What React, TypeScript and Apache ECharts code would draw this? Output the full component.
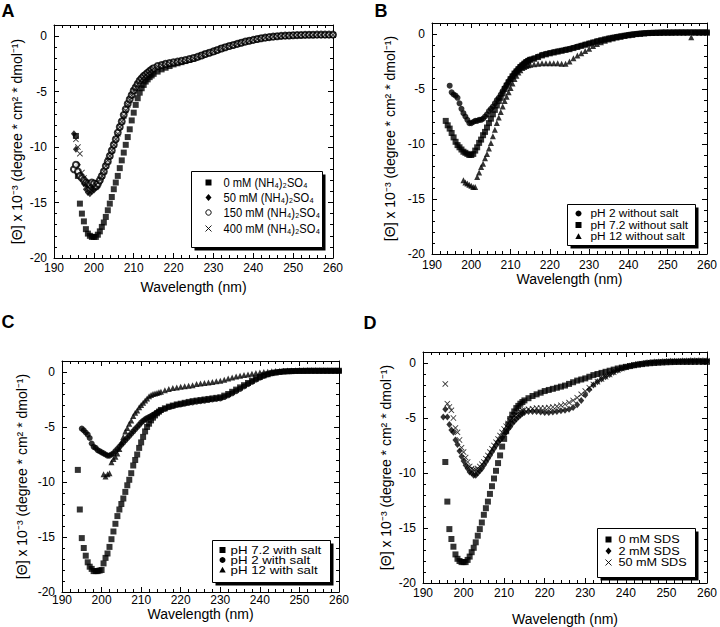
import React, { useEffect, useRef } from "react";
import * as echarts from "echarts";

// Wavelength grid (nm): 0.5 nm steps 193.5–215, then 1 nm steps 216–260
const WL_FINE = [
  193.5, 194, 194.5, 195,
  195.5, 196, 196.5, 197,
  197.5, 198, 198.5, 199,
  199.5, 200, 200.5, 201,
  201.5, 202, 202.5, 203,
  203.5, 204, 204.5, 205,
  205.5, 206, 206.5, 207,
  207.5, 208, 208.5, 209,
  209.5, 210, 210.5, 211,
  211.5, 212, 212.5, 213,
  213.5, 214, 214.5, 215,
];
const WL_TAIL = [
  216, 217, 218, 219, 220,
  221, 222, 223, 224, 225,
  226, 227, 228, 229, 230,
  231, 232, 233, 234, 235,
  236, 237, 238, 239, 240,
  241, 242, 243, 244, 245,
  246, 247, 248, 249, 250,
  251, 252, 253, 254, 255,
  256, 257, 258, 259, 260,
];

const X_TICKS = [190, 200, 210, 220, 230, 240, 250, 260];
const Y_TICKS = [-20, -15, -10, -5, 0];

// ---- Panel A / D: native (0 mM) spectrum ----
const NATIVE_FINE = [
  null, null, null, null,
  -9.0, -12.6, -15.1, -16.0,
  -16.7, -17.4, -17.8, -18.0,
  -18.1, -18.1, -18.1, -17.9,
  -17.6, -17.2, -16.8, -16.3,
  -15.7, -15.1, -14.5, -13.8,
  -13.2, -12.6, -11.9, -11.2,
  -10.5, -9.8, -9.1, -8.4,
  -7.6, -6.9, -6.2, -5.6,
  -5.1, -4.7, -4.4, -4.1,
  -3.9, -3.7, -3.55, -3.4,
];
const NATIVE_TAIL = [
  -3.2, -3.0, -2.85, -2.7, -2.55,
  -2.45, -2.35, -2.25, -2.15, -2.05,
  -1.9, -1.75, -1.6, -1.5, -1.4,
  -1.25, -1.1, -1.0, -0.9, -0.8,
  -0.7, -0.6, -0.5, -0.42, -0.35,
  -0.28, -0.2, -0.15, -0.1, -0.05,
  -0.02, 0.0, 0.03, 0.05, 0.07,
  0.08, 0.09, 0.1, 0.1, 0.1,
  0.1, 0.1, 0.11, 0.1, 0.1,
];

// ---- Panel A ----
const A_50_FINE = [
  null, null, null, -8.8,
  -10.2, -11.6, -12.5, -12.8,
  -13.3, -13.8, -14.1, -14.2,
  -14.0, -13.9, -13.7, -13.6,
  -13.2, -12.8, -12.3, -11.8,
  -11.4, -10.9, -10.5, -9.9,
  -9.4, -8.9, -8.3, -7.8,
  -7.3, -6.8, -6.2, -5.8,
  -5.4, -5.0, -4.7, -4.4,
  -4.1, -3.9, -3.7, -3.55,
  -3.4, -3.25, -3.1, -3.0,
];
const A_50_TAIL = [
  -2.8, -2.65, -2.55, -2.5, -2.42,
  -2.35, -2.28, -2.2, -2.12, -2.02,
  -1.9, -1.78, -1.65, -1.52, -1.4,
  -1.27, -1.14, -1.02, -0.92, -0.82,
  -0.72, -0.62, -0.52, -0.44, -0.36,
  -0.28, -0.21, -0.15, -0.1, -0.06,
  -0.02, 0.01, 0.03, 0.05, 0.07,
  0.08, 0.09, 0.1, 0.11, 0.11,
  0.12, 0.12, 0.12, 0.12, 0.12,
];
const A_150_FINE = [
  null, null, null, -12.0,
  -11.6, -12.2, -12.6, -12.8,
  -13.0, -13.2, -13.3, -13.4,
  -13.2, -13.3, -13.5, -13.3,
  -13.0, -12.6, -12.2, -11.7,
  -11.3, -10.8, -10.3, -9.8,
  -9.3, -8.7, -8.2, -7.7,
  -7.1, -6.6, -6.1, -5.7,
  -5.3, -4.9, -4.6, -4.3,
  -4.0, -3.8, -3.6, -3.45,
  -3.3, -3.15, -3.0, -2.9,
];
const A_150_TAIL = [
  -2.7, -2.6, -2.5, -2.42, -2.36,
  -2.3, -2.22, -2.15, -2.07, -1.98,
  -1.87, -1.75, -1.62, -1.5, -1.38,
  -1.25, -1.12, -1.0, -0.9, -0.8,
  -0.7, -0.6, -0.5, -0.42, -0.34,
  -0.26, -0.2, -0.14, -0.09, -0.05,
  -0.01, 0.02, 0.04, 0.06, 0.08,
  0.09, 0.1, 0.11, 0.12, 0.12,
  0.13, 0.13, 0.13, 0.13, 0.13,
];
const A_400_FINE = [
  null, null, null, null,
  -9.3, -10.0, -10.6, -12.3,
  -12.8, -13.3, -13.6, -13.8,
  -13.7, -13.6, -13.4, -13.2,
  -12.9, -12.6, -12.2, -11.7,
  -11.2, -10.8, -10.3, -9.8,
  -9.3, -8.8, -8.2, -7.7,
  -7.2, -6.7, -6.2, -5.75,
  -5.35, -4.95, -4.65, -4.35,
  -4.05, -3.85, -3.65, -3.5,
  -3.35, -3.2, -3.05, -2.95,
];
const A_400_TAIL = [
  -2.75, -2.62, -2.52, -2.46, -2.4,
  -2.32, -2.25, -2.18, -2.1, -2.0,
  -1.88, -1.76, -1.63, -1.5, -1.38,
  -1.26, -1.13, -1.01, -0.91, -0.81,
  -0.71, -0.61, -0.51, -0.43, -0.35,
  -0.27, -0.2, -0.14, -0.1, -0.05,
  -0.01, 0.02, 0.04, 0.06, 0.08,
  0.09, 0.1, 0.1, 0.11, 0.11,
  0.12, 0.12, 0.12, 0.12, 0.12,
];

// ---- Panel B ----
const B_PH2_FINE = [
  null, null, -4.7, -5.3,
  -5.5, -5.6, -5.8, -6.3,
  -6.8, -7.2, -7.5, -7.8,
  -8.1, -8.1, -8.0, -7.9,
  -7.9, -7.8, -7.8, -7.7,
  -7.5, -7.3, -7.0, -6.8,
  -6.6, -6.3, -6.0, -5.8,
  -5.5, -5.2, -4.9, -4.6,
  -4.3, -4.05, -3.8, -3.55,
  -3.35, -3.15, -2.95, -2.8,
  -2.65, -2.5, -2.4, -2.3,
];
const B_PH2_TAIL = [
  -2.2, -2.05, -1.9, -1.8, -1.72,
  -1.65, -1.58, -1.5, -1.42, -1.35,
  -1.25, -1.15, -1.05, -0.95, -0.85,
  -0.75, -0.65, -0.56, -0.48, -0.4,
  -0.33, -0.26, -0.2, -0.14, -0.08,
  -0.03, 0.01, 0.05, 0.08, 0.1,
  0.12, 0.13, 0.14, 0.15, 0.15,
  0.15, 0.16, 0.16, 0.16, 0.16,
  0.16, 0.16, 0.16, 0.16, 0.16,
];
const B_PH72_FINE = [
  -7.9, -8.3, -8.6, -9.0,
  -9.4, -9.8, -10.1, -10.3,
  -10.5, -10.7, -10.8, -10.9,
  -11.0, -11.0, -10.9, -10.6,
  -10.3, -9.9, -9.6, -9.2,
  -8.9, -8.5, -8.1, -7.7,
  -7.3, -6.9, -6.5, -6.1,
  -5.8, -5.4, -5.0, -4.7,
  -4.4, -4.1, -3.85, -3.6,
  -3.4, -3.2, -3.0, -2.85,
  -2.7, -2.55, -2.45, -2.35,
];
const B_PH72_TAIL = [
  -2.25, -2.1, -1.95, -1.85, -1.76,
  -1.68, -1.6, -1.53, -1.45, -1.38,
  -1.28, -1.18, -1.08, -0.98, -0.88,
  -0.78, -0.68, -0.59, -0.5, -0.42,
  -0.35, -0.28, -0.22, -0.16, -0.1,
  -0.05, -0.01, 0.03, 0.06, 0.08,
  0.1, 0.11, 0.12, 0.13, 0.13,
  0.13, 0.14, 0.14, 0.14, 0.14,
  0.14, 0.14, 0.14, 0.14, 0.14,
];
const B_PH12_FINE = [
  null, null, null, null,
  null, null, null, null,
  null, -13.3, -13.5, -13.6,
  -13.7, -13.8, -13.9, -13.9,
  -13.0, -12.6, -12.1, -11.8,
  -11.3, -10.9, -10.4, -9.9,
  -9.3, -8.7, -8.1, -7.6,
  -7.1, -6.6, -6.1, -5.7,
  -5.3, -4.9, -4.5, -4.1,
  -3.8, -3.5, -3.3, -3.1,
  -3.0, -2.9, -2.85, -2.8,
];
const B_PH12_TAIL = [
  -2.75, -2.7, -2.65, -2.65, -2.65,
  -2.65, -2.65, -2.7, -2.7, -2.5,
  -2.2, -1.95, -1.75, -1.55, -1.35,
  -1.1, -0.9, -0.75, -0.62, -0.5,
  -0.4, -0.32, -0.24, -0.17, -0.11,
  -0.06, -0.01, 0.03, 0.06, 0.08,
  0.1, 0.11, 0.12, 0.13, 0.13,
  0.14, 0.14, 0.14, 0.14, 0.14,
  -0.3, 0.14, 0.14, 0.14, 0.14,
];

// ---- Panel C ----
const C_PH72_FINE = [
  null, -8.9, -12.5, -15.1,
  -16.0, -16.7, -17.3, -17.7,
  -17.9, -18.1, -18.1, -18.1,
  -18.05, -18.0, -17.4, -16.9,
  -16.5, -15.9, -15.2, -14.5,
  -13.8, -13.1, -12.5, -12.0,
  -11.5, -10.9, -10.3, -9.8,
  -9.2, -8.5, -8.0, -7.5,
  -6.9, -6.4, -5.9, -5.4,
  -5.0, -4.7, -4.4, -4.15,
  -3.95, -3.75, -3.6, -3.45,
];
const C_PH72_TAIL = [
  -3.3, -3.15, -3.05, -2.95, -2.88,
  -2.8, -2.72, -2.65, -2.6, -2.55,
  -2.5, -2.45, -2.4, -2.35, -2.3,
  -2.15, -2.0, -1.8, -1.6, -1.4,
  -1.2, -1.0, -0.8, -0.6, -0.45,
  -0.3, -0.2, -0.1, -0.05, 0.0,
  0.04, 0.06, 0.08, 0.09, 0.1,
  0.1, 0.11, 0.11, 0.11, 0.11,
  0.11, 0.11, 0.11, 0.11, 0.11,
];
const C_PH2_FINE = [
  null, null, null, -5.15,
  -5.3, -5.5, -5.7, -6.0,
  -6.5, -6.8, -6.9, -7.1,
  -7.2, -7.3, -7.4, -7.5,
  -7.6, -7.6, -7.5, -7.4,
  -7.2, -7.0, -6.8, -6.6,
  -6.4, -6.2, -6.0, -5.8,
  -5.6, -5.4, -5.2, -5.0,
  -4.8, -4.6, -4.45, -4.3,
  -4.2, -4.1, -4.0, -3.9,
  -3.8, -3.7, -3.6, -3.5,
];
const C_PH2_TAIL = [
  -3.35, -3.2, -3.1, -3.0, -2.95,
  -2.88, -2.82, -2.76, -2.7, -2.65,
  -2.6, -2.55, -2.5, -2.45, -2.4,
  -2.28, -2.12, -1.94, -1.74, -1.54,
  -1.32, -1.1, -0.9, -0.7, -0.52,
  -0.36, -0.22, -0.12, -0.04, 0.02,
  0.05, 0.07, 0.08, 0.09, 0.1,
  0.1, 0.1, 0.11, 0.11, 0.11,
  0.11, 0.11, 0.11, 0.11, 0.11,
];
const C_PH12_FINE = [
  null, null, null, null,
  null, null, null, null,
  null, null, null, null,
  null, null, -9.3, -9.5,
  -9.3, -9.2, -8.2, -7.9,
  -7.7, -7.4, -7.0, -6.4,
  -5.9, -5.4, -5.1, -4.7,
  -4.4, -4.0, -3.7, -3.5,
  -3.2, -3.0, -2.8, -2.6,
  -2.4, -2.2, -2.1, -2.0,
  -1.95, -1.9, -1.85, -1.8,
];
const C_PH12_TAIL = [
  -1.65, -1.55, -1.45, -1.4, -1.35,
  -1.3, -1.25, -1.2, -1.1, -1.05,
  -1.0, -0.95, -0.9, -0.85, -0.8,
  -0.7, -0.6, -0.5, -0.42, -0.35,
  -0.28, -0.22, -0.16, -0.1, -0.05,
  0.0, 0.03, 0.06, 0.08, 0.1,
  0.12, 0.13, 0.14, 0.15, 0.15,
  0.15, 0.15, 0.15, 0.15, 0.15,
  0.15, 0.15, 0.15, 0.15, 0.15,
];

// ---- Panel D ----
const D_2_FINE = [
  null, null, null, -4.9,
  -4.2, -4.9, -5.6, -6.1,
  -6.3, -7.0, -7.4, -8.0,
  -8.5, -8.9, -9.3, -9.6,
  -9.9, -10.0, -10.2, -10.2,
  -10.0, -9.8, -9.6, -9.3,
  -9.0, -8.7, -8.4, -8.1,
  -7.8, -7.5, -7.2, -7.0,
  -6.8, -6.5, -6.3, -6.0,
  -5.8, -5.5, -5.3, -5.1,
  -4.9, -4.75, -4.6, -4.5,
];
const D_2_TAIL = [
  -4.4, -4.4, -4.4, -4.45, -4.5,
  -4.5, -4.45, -4.4, -4.35, -4.3,
  -4.2, -4.05, -3.8, -3.4, -2.9,
  -2.4, -2.0, -1.7, -1.45, -1.25,
  -1.05, -0.85, -0.65, -0.5, -0.38,
  -0.28, -0.2, -0.12, -0.06, 0.0,
  0.05, 0.08, 0.1, 0.12, 0.14,
  0.15, 0.16, 0.17, 0.18, 0.18,
  0.2, 0.2, 0.2, 0.2, 0.2,
];
const D_50_FINE = [
  null, null, null, null,
  -1.9, -3.7, -4.0, -4.3,
  -5.0, -5.9, -6.3, -7.0,
  -7.7, -8.1, -8.6, -9.0,
  -9.4, -9.6, -9.7, -9.7,
  -9.6, -9.4, -9.2, -9.0,
  -8.7, -8.4, -8.1, -7.8,
  -7.5, -7.2, -6.9, -6.6,
  -6.3, -6.0, -5.75, -5.5,
  -5.25, -5.0, -4.8, -4.65,
  -4.5, -4.4, -4.3, -4.25,
];
const D_50_TAIL = [
  -4.2, -4.15, -4.1, -4.1, -4.1,
  -4.05, -4.0, -3.95, -3.85, -3.75,
  -3.6, -3.4, -3.15, -2.85, -2.55,
  -2.25, -1.95, -1.7, -1.45, -1.25,
  -1.05, -0.85, -0.65, -0.5, -0.38,
  -0.28, -0.2, -0.12, -0.06, 0.0,
  0.05, 0.08, 0.1, 0.12, 0.14,
  0.15, 0.16, 0.17, 0.18, 0.18,
  0.2, 0.2, 0.2, 0.2, 0.2,
];

const FONT = 'Arial, "Liberation Sans", Helvetica, sans-serif';
const Y_NAME = "[Θ] x 10⁻³ (degree * cm² * dmol⁻¹)";
const X_NAME = "Wavelength (nm)";
const CROSS = "path://M1,0L5,4L9,0L10,1L6,5L10,9L9,10L5,6L1,10L0,9L4,5L0,1Z";

const WL = [...WL_FINE, ...WL_TAIL];
const toData = (fine: (number | null)[], tail: (number | null)[]) => {
  const vals = [...fine, ...tail];
  return WL.map((w, i) => [w, vals[i]]).filter((p) => p[1] !== null && p[1] !== undefined);
};

type Sym = "square" | "diamond" | "open" | "dot" | "tri" | "cross";
const SYMBOLS: Record<Sym, any> = {
  square: { symbol: "rect", symbolSize: 6, itemStyle: { color: "#000" } },
  diamond: { symbol: "diamond", symbolSize: [6, 7], itemStyle: { color: "#000" } },
  open: { symbol: "emptyCircle", symbolSize: 6, itemStyle: { color: "#000", borderWidth: 1 } },
  dot: { symbol: "circle", symbolSize: 6, itemStyle: { color: "#000" } },
  tri: { symbol: "triangle", symbolSize: 6, itemStyle: { color: "#000" } },
  cross: { symbol: CROSS, symbolSize: 6, itemStyle: { color: "#000" } },
};

const SERIES: { name: string; panel: number; sym: Sym; fine: any[]; tail: any[] }[] = [
  { name: "0 mM (NH₄)₂SO₄", panel: 0, sym: "square", fine: NATIVE_FINE, tail: NATIVE_TAIL },
  { name: "50 mM (NH₄)₂SO₄", panel: 0, sym: "diamond", fine: A_50_FINE, tail: A_50_TAIL },
  { name: "150 mM (NH₄)₂SO₄", panel: 0, sym: "open", fine: A_150_FINE, tail: A_150_TAIL },
  { name: "400 mM (NH₄)₂SO₄", panel: 0, sym: "cross", fine: A_400_FINE, tail: A_400_TAIL },
  { name: "pH 2 without salt", panel: 1, sym: "dot", fine: B_PH2_FINE, tail: B_PH2_TAIL },
  { name: "pH 7.2 without salt", panel: 1, sym: "square", fine: B_PH72_FINE, tail: B_PH72_TAIL },
  { name: "pH 12 without salt", panel: 1, sym: "tri", fine: B_PH12_FINE, tail: B_PH12_TAIL },
  { name: "pH 7.2 with salt", panel: 2, sym: "square", fine: C_PH72_FINE, tail: C_PH72_TAIL },
  { name: "pH 2 with salt", panel: 2, sym: "dot", fine: C_PH2_FINE, tail: C_PH2_TAIL },
  { name: "pH 12 with salt", panel: 2, sym: "tri", fine: C_PH12_FINE, tail: C_PH12_TAIL },
  { name: "0 mM SDS", panel: 3, sym: "square", fine: NATIVE_FINE, tail: NATIVE_TAIL },
  { name: "2 mM SDS", panel: 3, sym: "diamond", fine: D_2_FINE, tail: D_2_TAIL },
  { name: "50 mM SDS", panel: 3, sym: "cross", fine: D_50_FINE, tail: D_50_TAIL },
];

const PANELS = [
  { letter: "A", lx: 8, ly: 11, left: 54, top: 25, width: 279, height: 233, yGap: 30, xGap: 22, xMargin: 4,
    legend: { x: 191, y: 171, w: 131, h: 76, symX: 17, textX: 32, rows: [11, 26, 41, 57], fs: 12, sx: 0.93 } },
  { letter: "B", lx: 381, ly: 11, left: 432, top: 23, width: 280, height: 231, yGap: 35, xGap: 16, xMargin: 5,
    legend: { x: 567, y: 204, w: 128, h: 41, symX: 11, textX: 23, rows: [9, 20.5, 32], fs: 11, sx: 1.08 } },
  { letter: "C", lx: 8, ly: 322, left: 62, top: 361, width: 277, height: 231, yGap: 33, xGap: 10, xMargin: 2,
    legend: { x: 212, y: 540, w: 118, h: 42, symX: 10, textX: 18, rows: [9.5, 19.5, 29.5], fs: 10, sx: 1.33 } },
  { letter: "D", lx: 370, ly: 323, left: 423, top: 352, width: 284, height: 232, yGap: 30, xGap: 29, xMargin: 4,
    legend: { x: 597, y: 528, w: 98, h: 49, symX: 11, textX: 21, rows: [11, 22.5, 34], fs: 11.5, sx: 1.1 } },
];

function symbolEl(sym: Sym, cx: number, cy: number) {
  switch (sym) {
    case "square":
      return { type: "rect", shape: { x: cx - 3, y: cy - 3, width: 6, height: 6 }, style: { fill: "#000" } };
    case "diamond":
      return { type: "polygon", shape: { points: [[cx, cy - 3.5], [cx + 3, cy], [cx, cy + 3.5], [cx - 3, cy]] }, style: { fill: "#000" } };
    case "open":
      return { type: "circle", shape: { cx, cy, r: 2.7 }, style: { fill: "#fff", stroke: "#000", lineWidth: 1 } };
    case "dot":
      return { type: "circle", shape: { cx, cy, r: 3 }, style: { fill: "#000" } };
    case "tri":
      return { type: "polygon", shape: { points: [[cx, cy - 3.2], [cx + 3.2, cy + 2.6], [cx - 3.2, cy + 2.6]] }, style: { fill: "#000" } };
    case "cross":
    default:
      return {
        type: "group",
        children: [
          { type: "line", shape: { x1: cx - 3, y1: cy - 3, x2: cx + 3, y2: cy + 3 }, style: { stroke: "#000", lineWidth: 0.9 } },
          { type: "line", shape: { x1: cx + 3, y1: cy - 3, x2: cx - 3, y2: cy + 3 }, style: { stroke: "#000", lineWidth: 0.9 } },
        ],
      };
  }
}

function buildOption() {
  const grid: any[] = [];
  const xAxis: any[] = [];
  const yAxis: any[] = [];
  const graphic: any[] = [];
  const axisLine = { show: true, onZero: false, lineStyle: { color: "#000", width: 1 } };

  PANELS.forEach((p, g) => {
    grid.push({ left: p.left, top: p.top, width: p.width, height: p.height, containLabel: false });
    const xBase = {
      type: "value", gridIndex: g, min: X_TICKS[0], max: X_TICKS[X_TICKS.length - 1], interval: X_TICKS[1] - X_TICKS[0],
      axisLine, splitLine: { show: false }, minorSplitLine: { show: false },
      axisTick: { show: true, inside: true, length: 5, lineStyle: { color: "#000" } },
      minorTick: { show: true, splitNumber: 5, length: 3, lineStyle: { color: "#000" } },
    };
    xAxis.push({
      ...xBase, position: "bottom",
      axisLabel: { show: true, color: "#000", fontSize: 12, fontFamily: FONT, margin: p.xMargin },
      name: X_NAME, nameLocation: "middle", nameGap: p.xGap,
      nameTextStyle: { color: "#000", fontSize: 14, fontFamily: FONT },
    });
    xAxis.push({ ...xBase, position: "top", axisLabel: { show: false } });

    const yMajor = {
      type: "value", gridIndex: g, min: Y_TICKS[0], max: 1, interval: Y_TICKS[1] - Y_TICKS[0],
      splitLine: { show: false },
      axisTick: { show: true, inside: true, length: 5, lineStyle: { color: "#000" } },
    };
    const yMinor = {
      type: "value", gridIndex: g, min: Y_TICKS[0], max: 1, interval: 1,
      splitLine: { show: false }, axisLine: { show: false, onZero: false }, axisLabel: { show: false },
      axisTick: { show: true, inside: true, length: 3, lineStyle: { color: "#000" } },
    };
    yAxis.push({
      ...yMajor, position: "left", axisLine,
      axisLabel: {
        show: true, color: "#000", fontSize: 12, fontFamily: FONT, margin: 7,
        formatter: (v: number) => (Y_TICKS.includes(v) ? String(v) : ""),
      },
      name: Y_NAME, nameLocation: "middle", nameGap: p.yGap, nameRotate: 90,
      nameTextStyle: { color: "#000", fontSize: 14, fontFamily: FONT },
    });
    yAxis.push({ ...yMinor, position: "left" });
    yAxis.push({ ...yMajor, position: "right", axisLine, axisLabel: { show: false } });
    yAxis.push({ ...yMinor, position: "right" });

    // panel letter
    graphic.push({
      type: "text", x: p.lx, y: p.ly, z: 100,
      style: {
        text: p.letter, fill: "#000", fontSize: 18, fontWeight: "bold", fontFamily: FONT,
        textAlign: "center", textVerticalAlign: "middle", align: "center", verticalAlign: "middle",
      },
    });

    // legend box
    const L = p.legend;
    const items = SERIES.filter((s) => s.panel === g);
    const children: any[] = [
      { type: "rect", shape: { x: 3, y: 3, width: L.w, height: L.h }, style: { fill: "#000" } },
      { type: "rect", shape: { x: 0, y: 0, width: L.w, height: L.h }, style: { fill: "#fff", stroke: "#000", lineWidth: 1 } },
    ];
    items.forEach((s, i) => {
      children.push(symbolEl(s.sym, L.symX, L.rows[i]));
      children.push({
        type: "text", x: L.textX, y: L.rows[i], scaleX: L.sx,
        style: {
          text: s.name, fill: "#000", fontSize: L.fs, fontFamily: FONT, lineHeight: L.fs,
          textAlign: "left", textVerticalAlign: "middle", align: "left", verticalAlign: "middle",
        },
      });
    });
    graphic.push({ type: "group", x: L.x + 0.5, y: L.y + 0.5, z: 100, children });
  });

  const series = SERIES.map((s) => ({
    type: "scatter",
    name: s.name,
    xAxisIndex: s.panel * 2,
    yAxisIndex: s.panel * 4,
    ...SYMBOLS[s.sym],
    data: toData(s.fine, s.tail),
    emphasis: { disabled: true },
    clip: false,
  }));

  return {
    animation: false,
    backgroundColor: "#fff",
    textStyle: { fontFamily: FONT },
    grid, xAxis, yAxis, series, graphic,
  };
}

export default function App() {
  const ref = useRef<HTMLDivElement>(null);
  useEffect(() => {
    document.body.style.margin = "0";
    if (!ref.current) return;
    const chart = echarts.init(ref.current, null, { renderer: "svg" });
    chart.setOption(buildOption() as any);
    return () => chart.dispose();
  }, []);
  return <div ref={ref} style={{ width: 720, height: 627, position: "absolute", left: 0, top: 0 }} />;
}
